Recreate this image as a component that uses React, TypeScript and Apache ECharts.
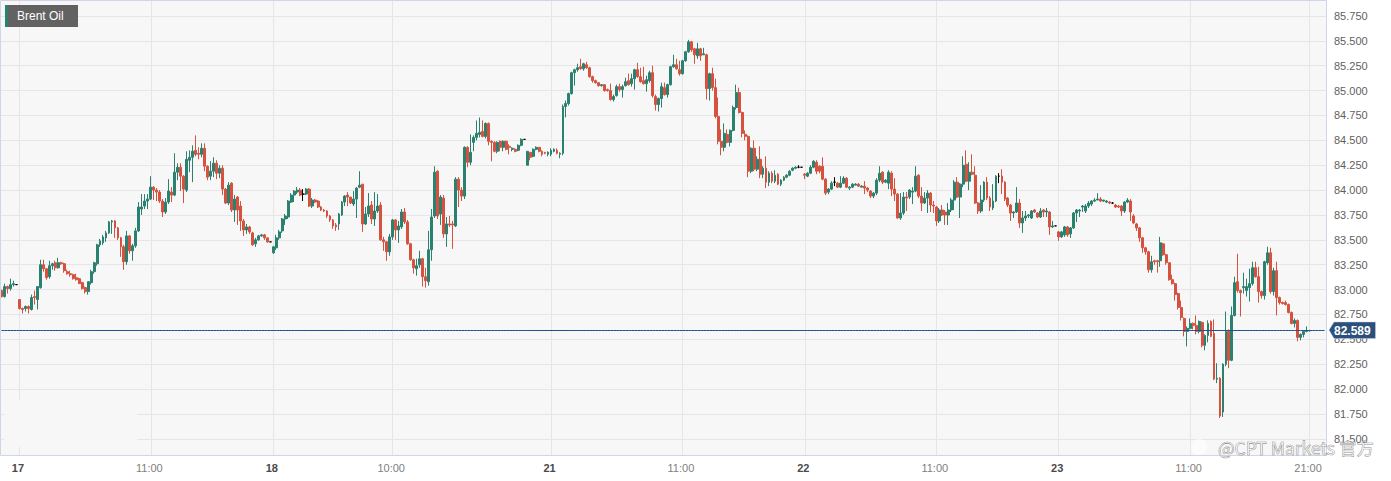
import React, { useEffect, useRef } from 'react';
import * as echarts from 'echarts';

// rows are [open, close, low, high], 15 minute bars, each list starts on an axis tick
const lead: number[][] = [
  [82.99,82.93,82.92,83.0],[82.93,83.03,82.92,83.06],[83.03,83.01,82.96,83.04],[83.01,83.05,82.99,83.11],[83.05,83.06,83.03,83.09],[83.05,83.05,83.05,83.05],
];
const day17a: number[][] = [
  [82.9,82.81,82.8,82.9],[82.81,82.8,82.76,82.82],[82.81,82.83,82.78,82.84],[82.83,82.81,82.76,82.84],[82.8,82.92,82.79,82.95],[82.93,82.92,82.85,82.99],[82.9,83.03,82.8,83.03],
  [83.02,83.25,83.01,83.3],[83.25,83.21,83.18,83.3],[83.21,83.12,83.1,83.21],[83.13,83.24,83.11,83.29],[83.24,83.26,83.2,83.27],[83.27,83.22,83.19,83.29],[83.22,83.27,83.21,83.32],
  [83.27,83.26,83.25,83.28],[83.26,83.19,83.17,83.27],[83.18,83.16,83.15,83.2],[83.16,83.15,83.13,83.19],[83.15,83.11,83.1,83.16],[83.12,83.1,83.09,83.16],[83.11,83.06,83.06,83.12],
  [83.07,83.01,83.0,83.08],[83.02,82.98,82.96,83.03],[82.98,83.08,82.95,83.08],[83.07,83.18,83.05,83.2],[83.18,83.27,83.16,83.28],[83.26,83.45,83.24,83.46],[83.45,83.49,83.43,83.51],
  [83.47,83.53,83.45,83.55],[83.52,83.57,83.48,83.59],[83.57,83.68,83.56,83.69],[83.68,83.69,83.56,83.7],[83.69,83.62,83.52,83.7],[83.62,83.52,83.5,83.63],[83.52,83.43,83.33,83.53],
  [83.43,83.28,83.2,83.45],[83.28,83.54,83.25,83.59],[83.54,83.39,83.36,83.55],[83.39,83.44,83.29,83.46],[83.44,83.59,83.42,83.62],[83.59,83.83,83.58,83.88],[83.81,83.83,83.75,83.96],
  [83.84,83.89,83.81,83.96],[83.89,83.91,83.81,83.96],
];
const day17b: number[][] = [
  [83.91,84.03,83.9,84.14],[84.03,84.0,83.9,84.04],[84.0,83.98,83.89,84.02],[83.98,83.89,83.87,84.0],[83.89,83.78,83.73,83.91],[83.78,83.88,83.76,83.92],[83.88,83.99,83.86,84.11],
  [83.98,83.95,83.88,84.03],[83.95,84.18,83.94,84.37],[84.18,84.23,84.1,84.27],[84.23,84.14,83.99,84.27],[84.14,84.01,83.87,84.15],[84.0,84.31,83.98,84.39],[84.3,84.33,84.18,84.4],
  [84.33,84.39,84.08,84.45],[84.4,84.36,84.34,84.55],[84.37,84.36,84.31,84.43],[84.36,84.42,84.33,84.47],[84.42,84.24,84.19,84.47],[84.24,84.13,84.1,84.25],[84.14,84.19,84.1,84.29],
  [84.19,84.27,84.13,84.33],[84.27,84.17,84.11,84.3],[84.17,84.22,84.12,84.25],[84.22,84.01,83.95,84.25],[84.01,83.87,83.86,84.02],[83.87,84.05,83.85,84.08],[84.07,83.8,83.78,84.08],
  [83.8,83.91,83.68,83.95],[83.93,83.8,83.65,83.94],[83.84,83.69,83.59,83.89],[83.69,83.6,83.54,83.71],[83.6,83.63,83.56,83.66],[83.63,83.58,83.56,83.64],[83.57,83.45,83.44,83.58],
  [83.46,83.5,83.43,83.52],[83.5,83.54,83.49,83.55],[83.54,83.55,83.53,83.56],[83.55,83.52,83.5,83.56],[83.52,83.48,83.47,83.52],[83.48,83.48,83.48,83.48],
];
const day18a: number[][] = [
  [83.37,83.43,83.36,83.44],[83.42,83.52,83.4,83.55],[83.52,83.58,83.5,83.6],[83.59,83.71,83.57,83.72],[83.71,83.74,83.65,83.76],[83.73,83.89,83.71,83.9],[83.88,83.95,83.87,83.97],
  [83.95,83.99,83.88,84.0],[83.98,84.0,83.96,84.03],[84.0,83.95,83.94,84.02],[83.96,83.96,83.89,84.01],[83.96,84.01,83.95,84.02],[84.01,83.84,83.83,84.02],[83.84,83.9,83.82,83.92],
  [83.9,83.88,83.87,83.91],[83.89,83.83,83.82,83.9],[83.83,83.8,83.79,83.84],[83.8,83.79,83.78,83.81],[83.79,83.74,83.72,83.8],[83.74,83.7,83.68,83.75],[83.7,83.64,83.61,83.71],
  [83.65,83.63,83.59,83.67],[83.66,83.76,83.6,83.77],[83.75,83.88,83.74,83.89],[83.88,83.94,83.84,83.95],[83.95,83.93,83.84,83.98],[83.93,83.87,83.86,83.93],[83.86,83.91,83.84,83.99],
  [83.91,84.02,83.72,84.03],[84.03,84.05,84.02,84.19],[84.06,83.66,83.58,84.06],[83.66,83.76,83.65,83.83],[83.76,83.84,83.73,83.97],[83.85,83.71,83.66,83.89],[83.71,83.79,83.64,83.98],
  [83.79,83.84,83.77,83.96],[83.85,83.5,83.49,83.88],[83.5,83.48,83.39,83.53],[83.48,83.38,83.29,83.49],[83.38,83.53,83.34,83.56],
];
const day18b: number[][] = [
  [83.53,83.7,83.5,83.71],[83.7,83.6,83.5,83.71],[83.6,83.64,83.47,83.69],[83.63,83.78,83.61,83.81],[83.78,83.68,83.66,83.82],[83.68,83.46,83.45,83.7],[83.46,83.3,83.29,83.47],
  [83.3,83.22,83.16,83.31],[83.21,83.24,83.14,83.31],[83.25,83.31,83.22,83.39],[83.31,83.13,83.03,83.32],[83.13,83.09,83.02,83.22],[83.08,83.4,83.04,83.59],[83.4,83.73,83.29,83.81],
  [83.74,84.18,83.72,84.24],[84.19,83.74,83.71,84.2],[83.76,83.93,83.65,83.95],[83.92,83.56,83.52,83.95],[83.56,83.66,83.43,83.73],[83.66,83.65,83.63,83.74],[83.66,83.65,83.41,83.69],
  [83.64,84.11,83.63,84.13],[84.11,84.0,83.83,84.13],[84.0,83.94,83.89,84.03],[83.94,84.43,83.91,84.44],[84.43,84.28,84.23,84.44],[84.28,84.38,84.25,84.56],[84.48,84.53,84.39,84.55],
  [84.53,84.57,84.5,84.7],[84.56,84.58,84.53,84.73],[84.59,84.54,84.53,84.7],[84.54,84.67,84.52,84.68],[84.67,84.49,84.45,84.68],[84.49,84.48,84.29,84.5],[84.48,84.39,84.38,84.49],
  [84.39,84.48,84.37,84.49],[84.49,84.43,84.39,84.5],[84.43,84.49,84.39,84.5],[84.49,84.41,84.4,84.5],[84.44,84.43,84.36,84.46],[84.41,84.42,84.39,84.43],[84.41,84.39,84.38,84.42],
  [84.4,84.45,84.39,84.46],[84.45,84.51,84.44,84.52],[84.51,84.51,84.51,84.51],[84.25,84.39,84.25,84.39],[84.38,84.33,84.3,84.38],[84.34,84.41,84.33,84.42],[84.41,84.43,84.4,84.44],
  [84.43,84.39,84.38,84.43],[84.39,84.36,84.34,84.4],[84.38,84.37,84.36,84.38],[84.36,84.38,84.34,84.39],
];
const day21a: number[][] = [
  [84.36,84.4,84.34,84.42],[84.39,84.41,84.38,84.42],[84.4,84.37,84.36,84.42],[84.36,84.37,84.32,84.38],[84.37,84.84,84.35,84.86],[84.84,84.87,84.73,84.9],[84.87,84.97,84.85,84.98],
  [84.97,85.18,84.96,85.19],[85.18,85.21,85.05,85.22],[85.21,85.23,85.19,85.27],[85.24,85.22,85.21,85.32],[85.22,85.27,85.2,85.28],[85.26,85.23,85.22,85.29],[85.23,85.14,85.13,85.24],
  [85.14,85.1,85.08,85.15],[85.1,85.08,85.07,85.11],[85.08,85.05,85.04,85.08],[85.05,85.06,85.04,85.06],[85.06,85.0,84.99,85.06],[85.01,85.0,84.99,85.02],[85.0,84.91,84.9,85.07],
  [84.91,84.94,84.89,84.96],[84.95,85.04,84.94,85.06],[85.04,85.01,84.99,85.07],[85.01,85.04,84.93,85.06],[85.05,85.09,85.04,85.13],[85.1,85.06,85.05,85.17],[85.07,85.12,85.04,85.17],
  [85.12,85.21,85.01,85.22],[85.21,85.14,85.13,85.28],[85.14,85.09,85.08,85.23],[85.1,85.07,85.06,85.24],[85.07,85.11,84.99,85.15],[85.1,85.18,85.08,85.2],[85.18,84.95,84.93,85.25],
  [84.94,84.86,84.8,84.96],[84.86,84.92,84.79,84.93],[84.92,85.04,84.83,85.08],[85.03,84.96,84.95,85.08],[84.96,85.06,84.93,85.07],[85.06,85.24,85.05,85.25],[85.24,85.26,85.23,85.36],
  [85.26,85.22,85.21,85.32],[85.21,85.17,85.15,85.3],
];
const day21b: number[][] = [
  [85.17,85.3,85.16,85.31],[85.3,85.39,85.29,85.4],[85.39,85.49,85.38,85.51],[85.49,85.41,85.39,85.5],[85.42,85.36,85.27,85.43],[85.35,85.42,85.32,85.48],[85.42,85.35,85.3,85.43],
  [85.36,85.37,85.36,85.43],[85.36,85.02,84.91,85.37],[85.02,85.17,84.9,85.18],[85.17,85.03,85.0,85.23],[85.03,84.74,84.72,85.12],[84.74,84.49,84.46,84.93],[84.49,84.43,84.35,84.61],
  [84.43,84.57,84.39,84.67],[84.56,84.48,84.47,84.61],[84.48,84.6,84.44,84.61],[84.6,84.83,84.59,84.85],[84.83,84.98,84.81,85.06],[84.98,84.78,84.77,85.03],[84.78,84.57,84.53,84.79],
  [84.56,84.54,84.5,84.6],[84.54,84.19,84.13,84.55],[84.19,84.42,84.17,84.43],[84.42,84.21,84.19,84.5],[84.21,84.31,84.19,84.34],[84.31,84.16,84.12,84.44],[84.16,84.22,84.12,84.24],
  [84.22,84.08,84.02,84.34],[84.08,84.17,84.04,84.19],[84.17,84.09,84.07,84.19],[84.09,84.15,84.07,84.2],[84.16,84.06,84.05,84.17],[84.06,84.1,84.04,84.11],[84.1,84.13,84.09,84.14],
  [84.13,84.15,84.12,84.16],[84.15,84.19,84.14,84.2],[84.2,84.22,84.19,84.23],[84.22,84.23,84.21,84.24],[84.23,84.23,84.22,84.25],[84.23,84.23,84.23,84.23],
];
const day22a: number[][] = [
  [84.16,84.15,84.11,84.17],[84.14,84.17,84.13,84.18],[84.17,84.23,84.16,84.25],[84.23,84.29,84.22,84.3],[84.28,84.19,84.16,84.3],[84.24,84.19,84.17,84.25],[84.24,84.11,84.1,84.33],
  [84.11,83.97,83.95,84.12],[83.98,84.01,83.96,84.02],[84.01,84.07,84.0,84.09],[84.08,84.08,84.04,84.13],[84.07,84.03,84.02,84.08],[84.03,84.07,84.02,84.14],[84.07,84.12,84.06,84.14],
  [84.12,84.03,84.02,84.13],[84.02,84.03,84.0,84.04],[84.03,84.06,84.02,84.07],[84.05,84.06,84.05,84.07],[84.06,84.04,84.03,84.07],[84.03,84.04,84.03,84.05],[84.04,84.02,83.96,84.09],
  [84.02,84.0,83.98,84.03],[83.99,83.94,83.92,84.0],[83.94,83.97,83.92,83.98],[83.97,84.1,83.95,84.12],[84.1,84.17,84.08,84.24],[84.18,84.08,84.06,84.19],[84.08,84.1,84.07,84.11],
  [84.07,84.18,84.01,84.2],[84.17,84.01,83.94,84.19],[84.01,83.96,83.89,84.12],[83.96,83.72,83.71,83.97],[83.72,83.77,83.7,83.97],[83.77,83.93,83.75,83.98],[83.93,83.92,83.79,83.98],
  [83.93,84.0,83.91,84.01],[83.98,83.99,83.86,84.03],[83.99,84.14,83.98,84.24],[84.15,83.94,83.92,84.16],[83.94,83.87,83.79,84.03],[83.87,83.92,83.86,83.98],[83.92,83.97,83.77,84.0],
  [83.97,83.85,83.78,83.98],[83.85,83.84,83.77,83.89],
];
const day22b: number[][] = [
  [83.83,83.69,83.64,83.84],[83.69,83.8,83.67,83.82],[83.8,83.75,83.74,83.85],[83.78,83.75,83.65,83.8],[83.75,83.8,83.65,83.87],[83.8,83.9,83.78,83.92],[83.9,84.08,83.8,84.1],
  [84.08,83.93,83.92,84.13],[83.93,84.06,83.72,84.07],[84.06,84.25,84.03,84.34],[84.26,84.09,84.08,84.4],[84.09,84.18,84.0,84.28],[84.18,84.16,84.15,84.36],[84.15,83.87,83.86,84.24],
  [83.87,83.79,83.76,83.88],[83.79,83.9,83.77,84.05],[83.9,84.08,83.88,84.09],[84.08,83.92,83.9,84.13],[83.92,83.83,83.79,83.94],[83.82,83.89,83.8,84.06],[83.89,84.14,83.88,84.15],
  [84.14,84.14,84.07,84.17],[84.14,84.08,83.96,84.21],[84.08,83.91,83.89,84.09],[83.92,83.85,83.83,83.93],[83.85,83.77,83.69,83.86],[83.77,83.78,83.72,83.79],[83.78,83.87,83.77,84.03],
  [83.87,83.67,83.62,83.91],[83.67,83.72,83.57,83.79],[83.72,83.74,83.69,83.79],[83.74,83.75,83.72,83.76],[83.72,83.79,83.71,83.8],[83.8,83.78,83.77,83.81],[83.77,83.73,83.72,83.78],
  [83.73,83.79,83.72,83.82],[83.8,83.78,83.73,83.81],[83.78,83.79,83.73,83.82],[83.78,83.63,83.55,83.79],[83.63,83.64,83.62,83.69],[83.64,83.64,83.64,83.64],
];
const day23a: number[][] = [
  [83.58,83.53,83.49,83.59],[83.53,83.58,83.52,83.59],[83.55,83.63,83.53,83.64],[83.63,83.55,83.53,83.64],[83.56,83.62,83.52,83.63],[83.62,83.77,83.61,83.78],[83.77,83.8,83.68,83.81],
  [83.79,83.8,83.73,83.81],[83.83,83.84,83.78,83.85],[83.79,83.84,83.77,83.86],[83.84,83.87,83.82,83.89],[83.86,83.89,83.84,83.9],[83.89,83.9,83.88,83.92],[83.9,83.91,83.9,83.97],
  [83.91,83.89,83.88,83.93],[83.89,83.9,83.88,83.9],[83.88,83.89,83.87,83.9],[83.88,83.87,83.86,83.89],[83.87,83.87,83.86,83.88],[83.85,83.83,83.82,83.86],[83.84,83.83,83.82,83.85],
  [83.84,83.79,83.74,83.85],[83.79,83.88,83.77,83.89],[83.88,83.9,83.87,83.92],[83.89,83.78,83.69,83.91],[83.74,83.67,83.66,83.76],[83.66,83.62,83.59,83.67],[83.62,83.52,83.48,83.63],
  [83.52,83.42,83.37,83.53],[83.42,83.38,83.35,83.43],[83.38,83.2,83.17,83.39],[83.2,83.28,83.17,83.34],[83.29,83.28,83.25,83.3],[83.29,83.28,83.17,83.3],[83.29,83.47,83.23,83.53],
  [83.46,83.35,83.34,83.47],[83.35,83.27,83.25,83.36],[83.27,83.1,83.09,83.27],[83.1,83.06,83.05,83.15],[83.06,82.95,82.89,83.07],[82.96,82.82,82.8,82.97],[82.82,82.72,82.69,82.89],
  [82.71,82.58,82.53,82.72],[82.58,82.61,82.43,82.63],
];
const day23b: number[][] = [
  [82.61,82.66,82.6,82.71],[82.66,82.64,82.6,82.67],[82.64,82.58,82.55,82.74],[82.58,82.68,82.56,82.69],[82.67,82.44,82.42,82.68],[82.44,82.54,82.39,82.55],[82.54,82.66,82.47,82.69],
  [82.68,82.53,82.52,82.69],[82.56,82.1,82.09,82.7],[82.1,82.11,82.06,82.26],[82.11,81.73,81.71,82.12],[81.77,82.25,81.72,82.26],[82.25,82.58,82.23,82.78],[82.58,82.29,82.21,82.6],
  [82.29,82.74,82.28,82.83],[82.74,83.07,82.73,83.13],[83.08,82.99,82.97,83.36],[82.99,82.97,82.73,83.0],[83.02,83.03,82.96,83.17],[82.99,83.03,82.93,83.11],[83.02,83.06,82.88,83.21],
  [83.06,83.22,83.04,83.28],[83.22,83.13,83.12,83.28],[83.13,82.98,82.87,83.23],[82.98,82.94,82.91,82.99],[82.94,83.28,82.9,83.29],[83.27,83.37,83.25,83.43],[83.37,82.98,82.96,83.42],
  [82.98,83.19,82.94,83.22],[83.19,82.92,82.74,83.28],[82.92,82.87,82.85,82.93],[82.87,82.86,82.85,82.88],[82.87,82.85,82.84,82.89],[82.85,82.77,82.76,82.86],[82.77,82.66,82.65,82.78],
  [82.66,82.69,82.62,82.71],[82.69,82.52,82.48,82.7],[82.52,82.55,82.49,82.56],[82.55,82.58,82.52,82.59],[82.58,82.59,82.57,82.63],
];
const tail: number[][] = [[82.585,82.589,82.58,82.595]];

const segments = [day17a, day17b, day18a, day18b, day21a, day21b, day22a, day22b, day23a, day23b, tail];
const tickLabels = ['17', '11:00', '18', '10:00', '21', '11:00', '22', '11:00', '23', '11:00', '21:00'];
const isDayLabel = [true, false, true, false, true, false, true, false, true, false, false];
const priceTicks = [81.5, 81.75, 82, 82.25, 82.5, 82.75, 83, 83.25, 83.5, 83.75, 84, 84.25, 84.5, 84.75, 85, 85.25, 85.5, 85.75];
const lastPrice = 82.589;
const instrument = 'Brent Oil';
const watermark = '@CPT Markets 官方';

const UP = '#2a8170';
const DOWN = '#d6523f';
const LAST_LINE = '#1f4f8c';

const candles = [lead, ...segments].flat();
const emptySlots = 5;
const categories = Array.from({ length: candles.length + emptySlots }, (_, i) => String(i));

// index of the first bar of each segment -> tick label
const tickAt = new Map<number, number>();
let cursor = lead.length;
segments.forEach((seg, i) => {
  tickAt.set(cursor, i);
  cursor += seg.length;
});

const App: React.FC = () => {
  const chartRef = useRef<HTMLDivElement>(null);

  useEffect(() => {
    if (!chartRef.current) return;
    const chart = echarts.init(chartRef.current, undefined, { renderer: 'svg' });

    const showTick = (index: number) => tickAt.has(index);

    chart.setOption({
      animation: false,
      grid: {
        show: true,
        left: -2.15,
        right: 1391 - 1326,
        top: 1,
        bottom: 481 - 455,
        backgroundColor: '#f7f7f7',
        borderWidth: 0,
      },
      xAxis: {
        type: 'category',
        data: categories,
        boundaryGap: true,
        axisLine: { show: false },
        axisTick: { show: false, alignWithLabel: true, interval: showTick },
        splitLine: {
          show: true,
          alignWithLabel: true,
          interval: showTick,
          lineStyle: { color: '#e6e6e9', width: 1 },
        },
        axisLabel: {
          interval: showTick,
          margin: 7,
          padding: [0, 3, 0, 0],
          hideOverlap: false,
          formatter: (value: string) => {
            const i = tickAt.get(Number(value));
            if (i === undefined) return '';
            return isDayLabel[i] ? `{day|${tickLabels[i]}}` : `{time|${tickLabels[i]}}`;
          },
          rich: {
            day: { fontFamily: 'Liberation Sans', fontSize: 11, fontWeight: 'bold', color: '#4a4a4a' },
            time: { fontFamily: 'Liberation Sans', fontSize: 11, color: '#808080' },
          },
        },
      },
      yAxis: {
        type: 'value',
        position: 'right',
        min: 81.3377,
        max: 85.9007,
        scale: true,
        axisLine: { show: false },
        axisTick: { show: false, customValues: priceTicks },
        splitLine: { show: true, lineStyle: { color: '#e6e6e9', width: 1 } },
        axisLabel: {
          customValues: priceTicks,
          margin: 8,
          fontFamily: 'Liberation Sans',
          fontSize: 11,
          color: '#5f5f5f',
          formatter: (v: number) => v.toFixed(3),
        },
      },
      series: [
        {
          type: 'candlestick',
          barWidth: 2.4,
          data: candles.map((row) =>
            row[0] === row[1]
              ? { value: row, itemStyle: { color: '#000', color0: '#000', borderColor: '#000', borderColor0: '#000' } }
              : row,
          ),
          itemStyle: { color: UP, color0: DOWN, borderColor: UP, borderColor0: DOWN, borderWidth: 1 },
        },
        {
          // last price line across the whole plot
          type: 'line',
          silent: true,
          showSymbol: false,
          z: 3,
          data: categories.map(() => lastPrice),
          lineStyle: { color: LAST_LINE, width: 1 },
          itemStyle: { color: LAST_LINE },
        },
      ],
      graphic: [
        // patch in the lower left where the screenshot has the grid wiped
        { type: 'rect', z: 1, shape: { x: 4, y: 400, width: 133, height: 47 }, style: { fill: '#f7f7f7' } },
        // plot frame
        { type: 'rect', z: 6, shape: { x: 0.5, y: 0.5, width: 1326, height: 455 }, style: { fill: 'none', stroke: '#cfd6ea', lineWidth: 1 } },
        // instrument badge
        { type: 'rect', z: 7, shape: { x: 5, y: 5, width: 73, height: 22 }, style: { fill: '#626262' } },
        { type: 'rect', z: 8, shape: { x: 5, y: 5, width: 3, height: 22 }, style: { fill: UP } },
        {
          type: 'text',
          z: 8,
          x: 17,
          y: 16,
          style: { text: instrument, fill: '#fff', font: '12px "Liberation Sans"', textVerticalAlign: 'middle' },
        },
        // last price tag
        {
          type: 'polygon',
          z: 7,
          shape: { points: [[1329, 330], [1334, 322], [1375.5, 322], [1375.5, 338.5], [1334, 338.5]] },
          style: { fill: '#2c4f7c', stroke: '#c5cfe0', lineWidth: 0.5 },
        },
        {
          type: 'text',
          z: 8,
          x: 1334,
          y: 330.5,
          style: { text: lastPrice.toFixed(3), fill: '#fff', font: 'bold 12px "Liberation Sans"', textVerticalAlign: 'middle' },
        },
        // watermark
        { type: 'circle', z: 9, shape: { cx: 1199, cy: 447, r: 8 }, style: { fill: 'rgba(255,255,255,0.6)' } },
        {
          type: 'text',
          z: 9,
          x: 1218,
          y: 447,
          style: {
            text: watermark,
            fill: 'rgba(255,255,255,0.5)',
            stroke: 'rgba(95,95,95,0.85)',
            lineWidth: 0.6,
            font: '17.5px "Noto Sans CJK SC"',
            textVerticalAlign: 'middle',
          },
        },
      ],
    });

    return () => {
      chart.dispose();
    };
  }, []);

  return <div ref={chartRef} style={{ position: 'absolute', left: 0, top: 0, width: 1391, height: 481 }} />;
};

export default App;
